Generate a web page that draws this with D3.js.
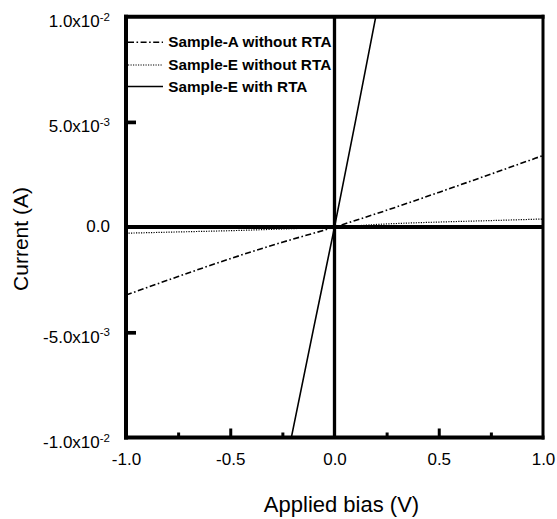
<!DOCTYPE html>
<html>
<head>
<meta charset="utf-8">
<script src="https://cdn.jsdelivr.net/npm/d3@7"></script>
<style>
  html, body { margin: 0; padding: 0; background: #fff; }
  svg { display: block; font-family: "Liberation Sans", Arial, sans-serif; }
</style>
</head>
<body>
<svg id="chart" width="557" height="519"></svg>
<script>
// ---- data ----
const seriesNames = ["Sample-A without RTA", "Sample-E without RTA", "Sample-E with RTA"];
const sampleA_bias    = [-1.0, -0.75, -0.5, -0.25, 0.0, 0.25, 0.5, 0.75, 1.0];
const sampleA_current = [-3.23e-3, -2.35e-3, -1.5e-3, -0.72e-3, 0.0, 0.8e-3, 1.65e-3, 2.52e-3, 3.4e-3];
const sampleE_bias    = [-1.0, -0.75, -0.5, -0.25, 0.0, 0.25, 0.5, 0.75, 1.0];
const sampleE_current = [-0.29e-3, -0.23e-3, -0.17e-3, -0.09e-3, 0.0, 0.15e-3, 0.24e-3, 0.31e-3, 0.385e-3];
const sampleERTA_bias    = [-0.207, -0.1, 0.0, 0.1, 0.198];
const sampleERTA_current = [-1.0e-2, -0.48e-2, 0.0, 0.5e-2, 1.0e-2];
const xTickValues = [-1.0, -0.5, 0.0, 0.5, 1.0];
const xTickLabels = ["-1.0", "-0.5", "0.0", "0.5", "1.0"];
const xMajorTicks = [-0.5, 0.5];
const xMinorTicks = [-0.75, -0.25, 0.25, 0.75];
const yTickValues = [1e-2, 5e-3, 0, -5e-3, -1e-2];
const yTickMantissa = ["1.0x10", "5.0x10", "0.0", "-5.0x10", "-1.0x10"];
const yTickExponent = ["-2", "-3", "", "-3", "-2"];
const yMajorTicks = [5e-3, -5e-3];
const xTitle = "Applied bias (V)";
const yTitle = "Current (A)";

// ---- layout ----
const svg = d3.select("#chart");
const L = 126, R = 543, T = 16.7, B = 437.5;
const x = d3.scaleLinear().domain([-1, 1]).range([L, R]);
const y = d3.scaleLinear().domain([-0.01, 0.01]).range([B, T]);

svg.append("defs").append("clipPath").attr("id", "plotclip")
  .append("rect").attr("x", L).attr("y", T).attr("width", R - L).attr("height", B - T);

const line = d3.line().x(d => x(d[0])).y(d => y(d[1])).curve(d3.curveMonotoneX);
const plot = svg.append("g").attr("clip-path", "url(#plotclip)");

const series = [
  { bias: sampleA_bias, cur: sampleA_current, dash: "6,2.5,1.6,2.5", w: 1.6 },
  { bias: sampleE_bias, cur: sampleE_current, dash: "1.2,1.3", w: 1.2 },
  { bias: sampleERTA_bias, cur: sampleERTA_current, dash: null, w: 1.6 }
];
series.forEach(s => {
  plot.append("path")
    .datum(s.bias.map((b, i) => [b, s.cur[i]]))
    .attr("d", line)
    .attr("fill", "none")
    .attr("stroke", "#000")
    .attr("stroke-width", s.w)
    .attr("stroke-dasharray", s.dash);
});

// zero lines
svg.append("line").attr("x1", x(0)).attr("x2", x(0)).attr("y1", T).attr("y2", B)
  .attr("stroke", "#000").attr("stroke-width", 3.3);
svg.append("line").attr("x1", L).attr("x2", R).attr("y1", y(0)).attr("y2", y(0))
  .attr("stroke", "#000").attr("stroke-width", 4);

// minor/major tick marks (inside)
const xMajAxis = d3.axisBottom(x).tickValues(xMajorTicks).tickSize(-9).tickFormat("");
const xMinAxis = d3.axisBottom(x).tickValues(xMinorTicks).tickSize(-5).tickFormat("");
[xMajAxis, xMinAxis].forEach(a => {
  const g = svg.append("g").attr("transform", `translate(0,${B})`).call(a);
  g.select(".domain").remove();
  g.selectAll("line").attr("stroke", "#000").attr("stroke-width", 3);
});
const yMajAxis = d3.axisLeft(y).tickValues(yMajorTicks).tickSize(-10).tickFormat("");
{
  const g = svg.append("g").attr("transform", `translate(${L},0)`).call(yMajAxis);
  g.select(".domain").remove();
  g.selectAll("line").attr("stroke", "#000").attr("stroke-width", 3.7);
}

// frame
svg.append("line").attr("x1", L).attr("x2", L).attr("y1", T - 2).attr("y2", B + 2).attr("stroke", "#000").attr("stroke-width", 4);
svg.append("line").attr("x1", L - 2).attr("x2", R + 1.5).attr("y1", T).attr("y2", T).attr("stroke", "#000").attr("stroke-width", 4);
svg.append("line").attr("x1", R).attr("x2", R).attr("y1", T - 2).attr("y2", B + 2).attr("stroke", "#000").attr("stroke-width", 3);
svg.append("line").attr("x1", L - 2).attr("x2", R + 1.5).attr("y1", B).attr("y2", B).attr("stroke", "#000").attr("stroke-width", 4);

// x tick labels
{
  const a = d3.axisBottom(x).tickValues(xTickValues).tickSize(0)
    .tickFormat((d, i) => xTickLabels[i]);
  const g = svg.append("g").attr("transform", `translate(0,${B})`).call(a);
  g.select(".domain").remove();
  g.selectAll("text").attr("y", 27.5).attr("dy", null)
    .attr("font-size", 17).attr("font-family", "Liberation Sans, Arial, sans-serif").attr("fill", "#000");
}

// y tick labels with superscripts
{
  const a = d3.axisLeft(y).tickValues(yTickValues).tickSize(0).tickPadding(0)
    .tickFormat((d, i) => yTickMantissa[i]);
  const g = svg.append("g").attr("transform", `translate(110,0)`).call(a);
  g.select(".domain").remove();
  g.selectAll("text").each(function(d, i) {
    const t = d3.select(this);
    t.text(null).attr("dy", null).attr("x", 0)
      .attr("y", yTickExponent[i] ? 10 : 4)
      .attr("font-size", 17).attr("font-family", "Liberation Sans, Arial, sans-serif").attr("fill", "#000");
    t.append("tspan").text(yTickMantissa[i]);
    if (yTickExponent[i]) {
      t.append("tspan").attr("dy", -6.5).attr("font-size", 11.5).text(yTickExponent[i]);
    }
  });
}

// axis titles
svg.append("text").attr("x", 341.5).attr("y", 511.5).attr("text-anchor", "middle")
  .attr("font-size", 22).attr("fill", "#000").text(xTitle);
svg.append("text").attr("transform", "translate(28,239) rotate(-90)").attr("text-anchor", "middle")
  .attr("font-size", 21).attr("fill", "#000").text(yTitle);

// legend
const legendY = [42.3, 65, 86.5];
const leg = svg.append("g");
series.forEach((s, i) => {
  leg.append("line").attr("x1", 128).attr("x2", 163).attr("y1", legendY[i]).attr("y2", legendY[i])
    .attr("stroke", "#000").attr("stroke-width", s.w).attr("stroke-dasharray", s.dash);
  leg.append("text").attr("x", 168.3).attr("y", legendY[i] + 5)
    .attr("font-size", 15.3).attr("font-weight", "bold").attr("fill", "#000").text(seriesNames[i]);
});
</script>
</body>
</html>
